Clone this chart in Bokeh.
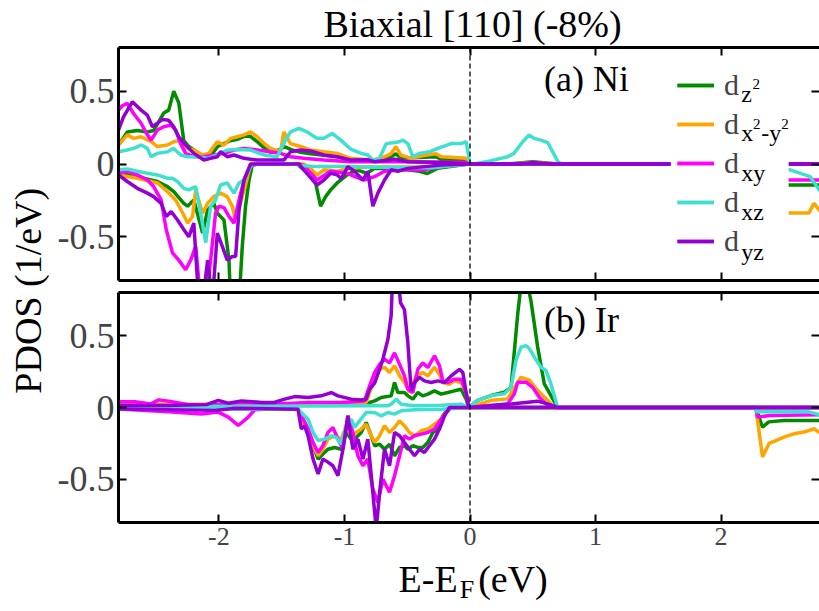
import math
from bokeh.plotting import figure
from bokeh.layouts import row, column
from bokeh.models import Range1d, LinearAxis, FixedTicker, Span, Label, Legend, LegendItem, BoxAnnotation
from bokeh.embed import file_html
from bokeh.resources import INLINE

FONT = "Liberation Serif"

# ---------------- data ----------------
X_TICKS = [-2, -1, 0, 1, 2]
X_TICK_LABELS = ["-2", "-1", "0", "1", "2"]
Y_TICKS = [-0.5, 0, 0.5]
Y_TICK_LABELS = ["-0.5", "0", "0.5"]

ORBITALS = ["z2", "x2-y2", "xy", "xz", "yz"]
COLORS = ["#008B00", "#FFA500", "#FF00FF", "#40E0D0", "#9400D3"]

# (a) Ni, spin up
NI_Z2_UP = [(-2.8, 0.13), (-2.73, 0.22), (-2.65, 0.23), (-2.57, 0.22), (-2.52, 0.23), (-2.44, 0.35), (-2.40, 0.37),
            (-2.36, 0.50), (-2.32, 0.42), (-2.28, 0.16), (-2.24, 0.12), (-2.17, 0.08), (-2.12, 0.05), (-2.07, 0.05),
            (-2.01, 0.12), (-1.96, 0.14), (-1.91, 0.16), (-1.85, 0.17), (-1.80, 0.19), (-1.75, 0.19), (-1.69, 0.15),
            (-1.64, 0.11), (-1.59, 0.08), (-1.51, 0.10), (-1.48, 0.12), (-1.43, 0.10), (-1.35, 0.08), (-1.27, 0.07),
            (-1.16, 0.06), (-1.06, 0.05), (-0.95, 0.03), (-0.76, 0.023), (-0.63, 0.05), (-0.59, 0.07), (-0.55, 0.04),
            (-0.36, 0.046), (-0.27, 0.05), (-0.23, 0.032), (-0.03, 0.027), (0.0, 0.0), (0.3, 0.0), (0.5, 0.015),
            (0.7, 0.0), (2.8, 0.0)]
NI_X2Y2_UP = [(-2.8, 0.13), (-2.73, 0.20), (-2.68, 0.176), (-2.62, 0.187), (-2.54, 0.153), (-2.49, 0.12), (-2.41, 0.13),
              (-2.36, 0.153), (-2.305, 0.164), (-2.25, 0.107), (-2.2, 0.096), (-2.13, 0.062), (-2.08, 0.073),
              (-2.013, 0.153), (-1.96, 0.13), (-1.907, 0.176), (-1.854, 0.187), (-1.80, 0.2), (-1.748, 0.22),
              (-1.695, 0.187), (-1.64, 0.14), (-1.59, 0.107), (-1.51, 0.084), (-1.483, 0.22), (-1.43, 0.14),
              (-1.35, 0.12), (-1.27, 0.096), (-1.164, 0.084), (-1.058, 0.073), (-0.952, 0.039), (-0.82, 0.03),
              (-0.76, 0.03), (-0.68, 0.05), (-0.63, 0.07), (-0.59, 0.12), (-0.55, 0.06), (-0.47, 0.04), (-0.36, 0.06),
              (-0.27, 0.07), (-0.23, 0.05), (-0.12, 0.045), (-0.03, 0.04), (0.0, 0.0), (0.35, 0.0), (0.5, 0.01),
              (0.7, 0.0), (2.8, 0.0)]
NI_XY_UP = [(-2.8, 0.37), (-2.77, 0.40), (-2.73, 0.416), (-2.68, 0.347), (-2.62, 0.28), (-2.57, 0.2), (-2.54, 0.164),
            (-2.49, 0.233), (-2.44, 0.256), (-2.38, 0.267), (-2.345, 0.233), (-2.305, 0.14), (-2.265, 0.073),
            (-2.2, 0.05), (-2.12, 0.05), (-2.04, 0.062), (-1.96, 0.073), (-1.88, 0.096), (-1.80, 0.107),
            (-1.695, 0.096), (-1.59, 0.084), (-1.51, 0.073), (-1.43, 0.05), (-1.324, 0.039), (-1.164, 0.027),
            (-0.952, 0.016), (-0.5, 0.015), (-0.03, 0.01), (0.0, 0.0), (2.8, 0.0)]
NI_XZ_UP = [(-2.8, 0.084), (-2.73, 0.096), (-2.68, 0.107), (-2.62, 0.13), (-2.57, 0.107), (-2.54, 0.05), (-2.49, 0.073),
            (-2.41, 0.084), (-2.36, 0.107), (-2.305, 0.062), (-2.25, 0.05), (-2.17, 0.05), (-2.09, 0.039),
            (-2.013, 0.062), (-1.934, 0.096), (-1.854, 0.10), (-1.748, 0.096), (-1.64, 0.062), (-1.536, 0.05),
            (-1.47, 0.164), (-1.43, 0.22), (-1.363, 0.244), (-1.297, 0.22), (-1.218, 0.176), (-1.164, 0.176),
            (-1.098, 0.21), (-1.03, 0.164), (-0.946, 0.10), (-0.867, 0.073), (-0.814, 0.062), (-0.774, 0.027),
            (-0.721, 0.039), (-0.668, 0.14), (-0.615, 0.146), (-0.562, 0.153), (-0.535, 0.164), (-0.495, 0.14),
            (-0.456, 0.05), (-0.403, 0.073), (-0.323, 0.084), (-0.257, 0.107), (-0.15, 0.14), (-0.071, 0.14),
            (-0.031, 0.153), (0.0, 0.0), (0.035, 0.0), (0.167, 0.023), (0.30, 0.05), (0.35, 0.073), (0.42, 0.153),
            (0.47, 0.20), (0.51, 0.176), (0.565, 0.164), (0.62, 0.146), (0.70, 0.016), (0.725, 0.0), (2.8, 0.0)]
NI_YZ_UP = [(-2.8, 0.233), (-2.76, 0.324), (-2.69, 0.427), (-2.62, 0.37), (-2.57, 0.336), (-2.53, 0.256), (-2.49, 0.28),
            (-2.45, 0.306), (-2.40, 0.30), (-2.36, 0.256), (-2.32, 0.187), (-2.265, 0.13), (-2.2, 0.073),
            (-2.12, 0.027), (-2.066, 0.039), (-2.013, 0.05), (-1.987, 0.084), (-1.934, 0.05), (-1.88, 0.062),
            (-1.80, 0.039), (-1.695, 0.027), (-1.483, 0.027), (-1.43, 0.084), (-1.35, 0.096), (-1.27, 0.09),
            (-1.164, 0.062), (-1.058, 0.05), (-0.952, 0.027), (-0.82, 0.03), (-0.761, 0.016), (-0.6, 0.032),
            (-0.495, 0.016), (-0.23, 0.01), (0.0, 0.0), (0.4, 0.0), (0.5, 0.01), (0.65, 0.0), (2.8, 0.0)]

# (a) Ni, spin down
NI_Z2_DN = [(-2.8, -0.064), (-2.65, -0.087), (-2.49, -0.12), (-2.41, -0.155), (-2.36, -0.19), (-2.28, -0.27),
            (-2.25, -0.29), (-2.2, -0.247), (-2.13, -0.475), (-2.09, -0.315), (-2.04, -0.27), (-2.013, -0.338),
            (-1.96, -0.384), (-1.92, -0.66), (-1.907, -0.95), (-1.84, -0.95), (-1.814, -0.566), (-1.788, -0.29),
            (-1.76, -0.11), (-1.735, -0.01), (-1.70, 0.0), (-1.377, 0.0), (-1.324, -0.04), (-1.244, -0.075),
            (-1.19, -0.29), (-1.15, -0.224), (-1.11, -0.178), (-1.058, -0.13), (-0.979, -0.075), (-0.9, -0.04),
            (-0.82, -0.064), (-0.761, -0.03), (-0.5, -0.04), (-0.403, -0.05), (-0.34, -0.065), (-0.26, -0.03),
            (-0.01, 0.0), (2.27, 0.0), (2.28, -0.145), (2.8, -0.145)]
NI_X2Y2_DN = [(-2.8, -0.075), (-2.65, -0.098), (-2.49, -0.13), (-2.41, -0.19), (-2.345, -0.247), (-2.28, -0.35),
              (-2.25, -0.406), (-2.21, -0.36), (-2.185, -0.178), (-2.13, -0.338), (-2.09, -0.27), (-2.04, -0.224),
              (-1.987, -0.2), (-1.934, -0.224), (-1.894, -0.29), (-1.867, -0.384), (-1.83, -0.27), (-1.788, -0.144),
              (-1.748, 0.0), (-1.324, 0.0), (-1.27, -0.03), (-1.218, -0.075), (-1.164, -0.04), (-1.058, -0.05),
              (-0.952, -0.03), (-0.82, -0.02), (-0.3, -0.02), (0.0, 0.0), (2.27, 0.0), (2.28, -0.336),
              (2.7, -0.336), (2.74, -0.27), (2.8, -0.336)]
NI_XY_DN = [(-2.8, -0.064), (-2.73, -0.05), (-2.65, -0.075), (-2.57, -0.11), (-2.52, -0.155), (-2.46, -0.247),
            (-2.42, -0.45), (-2.37, -0.61), (-2.32, -0.66), (-2.265, -0.726), (-2.225, -0.66), (-2.185, -0.566),
            (-2.145, -0.95), (-2.105, -0.95), (-2.066, -0.66), (-2.027, -0.338), (-2.0, -0.29), (-1.96, -0.30),
            (-1.92, -0.36), (-1.88, -0.406), (-1.84, -0.247), (-1.80, -0.11), (-1.748, -0.01), (-1.70, 0.0),
            (-1.363, 0.0), (-1.324, -0.012), (-1.218, -0.11), (-1.11, -0.05), (-0.979, -0.064), (-0.846, -0.11),
            (-0.761, -0.087), (-0.681, -0.05), (-0.55, -0.04), (-0.363, -0.04), (-0.23, -0.018), (-0.01, 0.0),
            (2.27, 0.0), (2.28, -0.11), (2.8, -0.11)]
NI_XZ_DN = [(-2.8, -0.04), (-2.73, -0.034), (-2.65, -0.05), (-2.57, -0.064), (-2.49, -0.075), (-2.41, -0.098),
            (-2.37, -0.098), (-2.33, -0.12), (-2.28, -0.167), (-2.24, -0.178), (-2.185, -0.155), (-2.145, -0.338),
            (-2.105, -0.54), (-2.066, -0.29), (-2.027, -0.247), (-1.987, -0.144), (-1.934, -0.13), (-1.88, -0.2),
            (-1.84, -0.13), (-1.80, -0.11), (-1.76, -0.04), (-1.735, 0.0), (-1.4, 0.0), (-1.35, -0.01),
            (-1.218, -0.018), (-0.952, -0.018), (-0.82, -0.02), (-0.3, -0.025), (-0.01, 0.0), (2.27, 0.0),
            (2.28, -0.04), (2.55, -0.04), (2.71, -0.087), (2.8, -0.2)]
NI_YZ_DN = [(-2.8, -0.075), (-2.73, -0.12), (-2.65, -0.167), (-2.57, -0.2), (-2.52, -0.224), (-2.46, -0.27),
            (-2.42, -0.36), (-2.38, -0.326), (-2.33, -0.384), (-2.28, -0.45), (-2.24, -0.5), (-2.2, -0.406),
            (-2.16, -0.95), (-2.13, -0.95), (-2.09, -0.66), (-2.053, -0.95), (-2.013, -0.475), (-1.973, -0.566),
            (-1.934, -0.66), (-1.894, -0.635), (-1.867, -0.635), (-1.84, -0.315), (-1.80, -0.11), (-1.748, 0.0),
            (-1.363, 0.0), (-1.324, -0.04), (-1.218, -0.144), (-1.164, -0.11), (-1.11, -0.064), (-1.058, -0.075),
            (-1.026, -0.1), (-0.973, -0.018), (-0.92, -0.05), (-0.854, -0.11), (-0.814, -0.05), (-0.774, -0.29),
            (-0.734, -0.2), (-0.681, -0.11), (-0.628, -0.04), (-0.575, -0.05), (-0.495, -0.03), (-0.363, -0.018),
            (-0.23, -0.007), (-0.01, 0.0), (2.8, 0.0)]

# (b) Ir, spin up
IR_Z2_UP = [(-2.8, 0.012), (-0.827, 0.023), (-0.80, 0.035), (-0.76, 0.046), (-0.707, 0.07), (-0.628, 0.081),
            (-0.601, 0.174), (-0.575, 0.104), (-0.522, 0.104), (-0.495, 0.081), (-0.455, 0.058), (-0.416, 0.104),
            (-0.376, 0.081), (-0.336, 0.093), (-0.283, 0.116), (-0.23, 0.093), (-0.177, 0.104), (-0.124, 0.116),
            (-0.071, 0.127), (-0.031, 0.058), (-0.01, 0.0), (0.061, 0.05), (0.168, 0.083), (0.274, 0.106),
            (0.327, 0.14), (0.38, 0.65), (0.406, 0.85), (0.46, 0.85), (0.486, 0.74), (0.539, 0.42), (0.592, 0.164),
            (0.645, 0.083), (0.698, 0.0), (2.8, 0.0)]
IR_X2Y2_UP = [(-2.8, 0.023), (-1.82, 0.023), (-1.29, 0.023), (-0.827, 0.035), (-0.80, 0.104), (-0.76, 0.197),
              (-0.72, 0.266), (-0.681, 0.28), (-0.641, 0.243), (-0.601, 0.29), (-0.561, 0.22), (-0.522, 0.174),
              (-0.482, 0.104), (-0.429, 0.22), (-0.376, 0.243), (-0.336, 0.22), (-0.283, 0.28), (-0.243, 0.23),
              (-0.217, 0.174), (-0.164, 0.162), (-0.124, 0.185), (-0.071, 0.174), (-0.031, 0.104), (-0.01, 0.0),
              (0.168, 0.05), (0.30, 0.06), (0.353, 0.14), (0.406, 0.21), (0.473, 0.19), (0.539, 0.118),
              (0.618, 0.05), (0.672, 0.0), (2.8, 0.0)]
IR_XY_UP = [(-2.8, 0.04), (-2.67, 0.04), (-2.54, 0.025), (-2.48, 0.053), (-2.40, 0.044), (-2.24, 0.02), (-2.0, 0.02),
            (-1.82, 0.035), (-1.56, 0.023), (-1.29, 0.035), (-1.026, 0.035), (-0.84, 0.046), (-0.80, 0.15),
            (-0.76, 0.243), (-0.72, 0.30), (-0.681, 0.336), (-0.641, 0.31), (-0.601, 0.38), (-0.561, 0.30),
            (-0.522, 0.22), (-0.495, 0.127), (-0.455, 0.104), (-0.416, 0.266), (-0.376, 0.31), (-0.336, 0.278),
            (-0.283, 0.36), (-0.243, 0.29), (-0.217, 0.185), (-0.177, 0.174), (-0.124, 0.197), (-0.071, 0.197),
            (-0.031, 0.104), (-0.01, 0.0), (0.30, 0.025), (0.353, 0.095), (0.38, 0.176), (0.446, 0.176),
            (0.499, 0.14), (0.552, 0.072), (0.618, 0.014), (0.672, 0.0), (2.8, 0.0)]
IR_XZ_UP = [(-2.8, 0.005), (-0.76, 0.012), (-0.654, 0.012), (-0.628, 0.023), (-0.588, 0.058), (-0.548, 0.023),
            (-0.442, 0.012), (-0.23, 0.016), (-0.071, 0.023), (-0.01, 0.0), (0.061, 0.05), (0.168, 0.083),
            (0.274, 0.095), (0.327, 0.14), (0.366, 0.326), (0.406, 0.42), (0.446, 0.43), (0.473, 0.41),
            (0.513, 0.35), (0.566, 0.28), (0.605, 0.257), (0.645, 0.164), (0.698, 0.0), (2.8, 0.0)]
IR_YZ_UP = [(-2.8, 0.014), (-2.4, 0.014), (-2.1, 0.02), (-2.005, 0.05), (-1.926, 0.03), (-1.82, 0.046), (-1.66, 0.035),
            (-1.56, 0.035), (-1.477, 0.058), (-1.397, 0.076), (-1.29, 0.07), (-1.185, 0.081), (-1.105, 0.104),
            (-1.052, 0.081), (-0.946, 0.058), (-0.867, 0.053), (-0.827, 0.058), (-0.80, 0.127), (-0.76, 0.17),
            (-0.72, 0.266), (-0.694, 0.336), (-0.654, 0.475), (-0.628, 0.64), (-0.615, 0.95), (-0.575, 0.95),
            (-0.554, 0.73), (-0.522, 0.68), (-0.495, 0.45), (-0.469, 0.116), (-0.442, 0.174), (-0.402, 0.21),
            (-0.363, 0.185), (-0.31, 0.174), (-0.256, 0.185), (-0.203, 0.174), (-0.15, 0.22), (-0.084, 0.266),
            (-0.057, 0.243), (-0.031, 0.104), (-0.01, 0.0), (0.327, 0.025), (0.539, 0.044), (0.618, 0.025),
            (0.698, 0.0), (2.8, 0.0)]

# (b) Ir, spin down
IR_Z2_DN = [(-2.8, -0.012), (-1.37, -0.012), (-1.33, -0.081), (-1.29, -0.15), (-1.25, -0.266), (-1.21, -0.36),
            (-1.172, -0.324), (-1.132, -0.29), (-1.079, -0.278), (-1.026, -0.29), (-0.986, -0.174), (-0.946, -0.22),
            (-0.906, -0.208), (-0.867, -0.174), (-0.827, -0.104), (-0.787, -0.197), (-0.76, -0.266), (-0.72, -0.255),
            (-0.681, -0.29), (-0.641, -0.255), (-0.601, -0.336), (-0.561, -0.278), (-0.522, -0.266), (-0.495, -0.29),
            (-0.455, -0.266), (-0.416, -0.278), (-0.376, -0.278), (-0.336, -0.243), (-0.296, -0.174),
            (-0.256, -0.15), (-0.217, -0.058), (-0.177, -0.012), (-0.15, 0.0), (2.277, 0.0), (2.33, -0.137),
            (2.38, -0.1), (2.5, -0.09), (2.8, -0.09)]
IR_X2Y2_DN = [(-2.8, -0.012), (-1.37, -0.012), (-1.33, -0.104), (-1.29, -0.174), (-1.25, -0.266), (-1.21, -0.336),
              (-1.172, -0.29), (-1.132, -0.22), (-1.079, -0.197), (-1.026, -0.22), (-0.986, -0.127), (-0.946, -0.197),
              (-0.906, -0.174), (-0.867, -0.15), (-0.827, -0.116), (-0.787, -0.197), (-0.76, -0.243), (-0.72, -0.197),
              (-0.681, -0.127), (-0.641, -0.174), (-0.601, -0.139), (-0.561, -0.093), (-0.522, -0.127),
              (-0.482, -0.174), (-0.442, -0.197), (-0.389, -0.162), (-0.336, -0.15), (-0.283, -0.116),
              (-0.23, -0.081), (-0.19, -0.035), (-0.15, 0.0), (2.277, 0.0), (2.33, -0.345), (2.382, -0.25),
              (2.436, -0.23), (2.50, -0.206), (2.58, -0.183), (2.66, -0.171), (2.74, -0.148), (2.8, -0.183)]
IR_XY_DN = [(-2.8, -0.01), (-2.4, -0.03), (-2.14, -0.045), (-2.005, -0.032), (-1.926, -0.067), (-1.846, -0.125),
            (-1.767, -0.067), (-1.714, -0.015), (-1.6, -0.01), (-1.37, -0.012), (-1.33, -0.081), (-1.29, -0.15),
            (-1.25, -0.243), (-1.21, -0.3125), (-1.172, -0.266), (-1.132, -0.174), (-1.092, -0.139), (-1.052, -0.22),
            (-1.012, -0.29), (-0.973, -0.058), (-0.933, -0.174), (-0.893, -0.336), (-0.853, -0.405),
            (-0.814, -0.359), (-0.774, -0.567), (-0.734, -0.66), (-0.694, -0.498), (-0.641, -0.59), (-0.601, -0.475),
            (-0.561, -0.336), (-0.522, -0.197), (-0.482, -0.22), (-0.442, -0.197), (-0.389, -0.185),
            (-0.336, -0.174), (-0.283, -0.15), (-0.23, -0.081), (-0.19, -0.035), (-0.15, 0.0), (2.277, 0.0),
            (2.29, -0.067), (2.39, -0.056), (2.8, -0.05)]
IR_XZ_DN = [(-2.8, -0.012), (-1.37, -0.012), (-1.344, -0.035), (-1.29, -0.081), (-1.25, -0.174), (-1.21, -0.23),
            (-1.158, -0.22), (-1.105, -0.197), (-1.066, -0.208), (-1.026, -0.255), (-0.986, -0.127), (-0.946, -0.081),
            (-0.92, -0.139), (-0.88, -0.093), (-0.827, -0.035), (-0.76, -0.035), (-0.707, -0.058), (-0.654, -0.035),
            (-0.601, -0.046), (-0.548, -0.023), (-0.442, -0.016), (-0.23, -0.012), (-0.01, 0.0), (2.277, 0.0),
            (2.28, -0.03), (2.7, -0.03), (2.8, -0.055)]
IR_YZ_DN = [(-2.8, -0.01), (-2.03, -0.02), (-1.87, -0.005), (-1.37, -0.012), (-1.344, -0.15), (-1.318, -0.127),
            (-1.29, -0.197), (-1.25, -0.359), (-1.21, -0.463), (-1.172, -0.359), (-1.132, -0.38), (-1.092, -0.405),
            (-1.052, -0.475), (-1.012, -0.29), (-0.973, -0.058), (-0.933, -0.29), (-0.893, -0.22), (-0.853, -0.359),
            (-0.814, -0.22), (-0.774, -0.59), (-0.747, -0.85), (-0.72, -0.59), (-0.681, -0.29), (-0.641, -0.405),
            (-0.601, -0.174), (-0.561, -0.197), (-0.522, -0.243), (-0.482, -0.29), (-0.442, -0.336),
            (-0.402, -0.29), (-0.363, -0.3125), (-0.323, -0.266), (-0.283, -0.22), (-0.243, -0.15),
            (-0.203, -0.058), (-0.164, 0.0), (2.8, 0.0)]

NI_SERIES = [(NI_Z2_UP, NI_Z2_DN), (NI_X2Y2_UP, NI_X2Y2_DN), (NI_XY_UP, NI_XY_DN), (NI_XZ_UP, NI_XZ_DN), (NI_YZ_UP, NI_YZ_DN)]
IR_SERIES = [(IR_Z2_UP, IR_Z2_DN), (IR_X2Y2_UP, IR_X2Y2_DN), (IR_XY_UP, IR_XY_DN), (IR_XZ_UP, IR_XZ_DN), (IR_YZ_UP, IR_YZ_DN)]

# legend label pieces written after each "d": (text, x shift in eV, superscript?)
LEG_SUBS = [[("z", 0.0, 0), ("2", 0.09, 1)],
            [("x", 0.0, 0), ("2", 0.095, 1), ("-y", 0.16, 0), ("2", 0.32, 1)],
            [("xy", 0.0, 0)],
            [("xz", 0.0, 0)],
            [("yz", 0.0, 0)]]
LEG_SUB_Y = [0.481, 0.210, -0.061, -0.3325, -0.604]
LEG_SUP_Y = [0.546, 0.275, 0.0, 0.0, 0.0]

# ---------------- figure helpers ----------------
W_LABEL = 54
W_PANEL = 819 - W_LABEL
LEFT_BORDER = 117 - W_LABEL
X0, X1 = -2.8, 2.784
LW = 3.5


def hide_labels(ax):
    ax.major_label_text_font_size = "1px"
    ax.major_label_text_color = None
    ax.major_label_standoff = 0


def make_panel(height, top, bottom, show_x_labels):
    p = figure(width=W_PANEL, height=height, x_range=Range1d(X0, X1), y_range=Range1d(-0.8, 0.8),
               output_backend="svg", toolbar_location=None, x_axis_location=None, y_axis_location=None,
               min_border_left=LEFT_BORDER, min_border_right=0, min_border_top=top, min_border_bottom=bottom)
    p.grid.visible = False
    p.outline_line_color = None

    def style(ax, line=True):
        ax.axis_line_width = 3
        ax.axis_line_color = "black" if line else None
        ax.major_tick_in = 8
        ax.major_tick_out = 0
        ax.major_tick_line_width = 2
        ax.minor_tick_line_color = None
        ax.major_label_text_font = FONT

    left = LinearAxis(ticker=FixedTicker(ticks=Y_TICKS),
                      major_label_overrides={t: s for t, s in zip(Y_TICKS, Y_TICK_LABELS)})
    style(left)
    left.major_label_text_font_size = "36px"
    left.major_label_standoff = 4
    p.add_layout(left, "left")

    right = LinearAxis(ticker=FixedTicker(ticks=Y_TICKS))
    style(right, line=False)
    hide_labels(right)
    p.add_layout(right, "right")

    above = LinearAxis(ticker=FixedTicker(ticks=X_TICKS))
    style(above)
    hide_labels(above)
    p.add_layout(above, "above")

    below = LinearAxis(ticker=FixedTicker(ticks=X_TICKS),
                       major_label_overrides={t: s for t, s in zip(X_TICKS, X_TICK_LABELS)})
    style(below)
    if show_x_labels:
        below.major_label_text_font_size = "26px"
        below.major_label_standoff = 5
    else:
        hide_labels(below)
    p.add_layout(below, "below")

    p.add_layout(Span(location=0, dimension="height", line_color="black", line_width=1.3, line_dash="5 3"))
    return p


def text_fig(width, height, left_border, xr):
    f = figure(width=width, height=height, x_range=xr, y_range=Range1d(0, 1), output_backend="svg",
               toolbar_location=None, x_axis_location=None, y_axis_location=None,
               min_border_left=left_border, min_border_right=0, min_border_top=0, min_border_bottom=0)
    f.grid.visible = False
    f.outline_line_color = None
    return f


def draw(p, series):
    rends = []
    for (up, dn), color in zip(series, COLORS):
        r1 = p.line([e for e, _ in up], [v for _, v in up], line_color=color, line_width=LW)
        r2 = p.line([e for e, _ in dn], [v for _, v in dn], line_color=color, line_width=LW)
        rends.append([r1, r2])
    return rends


def txt(p, x, y, text, size, align="left", angle=0.0):
    p.add_layout(Label(x=x, y=y, text=text, text_font=FONT, text_font_size=size, text_align=align,
                       text_baseline="middle", angle=angle, text_color="black", level="overlay"))


# ---------------- title strip ----------------
pt = text_fig(W_PANEL, 46, LEFT_BORDER, Range1d(X0, X1))
txt(pt, 0.02, 0.50, "Biaxial [110] (-8%)", "38px", align="center")

# ---------------- top panel (Ni) ----------------
p1 = make_panel(240, 1, 6, False)
p1.add_layout(BoxAnnotation(left=1.60, right=2.538, top=0.70, bottom=-0.70, fill_color="white", fill_alpha=1.0,
                            line_color=None, level="guide"))
ni_r = draw(p1, NI_SERIES)
txt(p1, 0.589, 0.584, "(a) Ni", "36px")

legend = Legend(items=[LegendItem(label="d", renderers=r) for r in ni_r], location=(559, 22),
                glyph_width=37, glyph_height=20, label_standoff=10, label_width=67, label_height=20,
                label_text_font=FONT, label_text_font_size="30px", padding=8, spacing=5, margin=0,
                border_line_color=None, background_fill_alpha=0.0)
p1.add_layout(legend)

for subs, ys, yp in zip(LEG_SUBS, LEG_SUB_Y, LEG_SUP_Y):
    for text, dx, sup in subs:
        if sup:
            txt(p1, 2.16 + dx, yp, text, "15px")
        else:
            txt(p1, 2.16 + dx, ys, text, "24px")

# ---------------- bottom panel (Ir) ----------------
p2 = make_panel(270, 6, 34, True)
draw(p2, IR_SERIES)
txt(p2, 0.589, 0.612, "(b) Ir", "36px")

# ---------------- x label strip ----------------
p3 = text_fig(W_PANEL, 55, LEFT_BORDER, Range1d(X0, X1))
txt(p3, -0.334, 0.582, "E-E", "38px", align="center")
txt(p3, -0.024, 0.40, "F", "26px", align="center")
txt(p3, 0.342, 0.582, "(eV)", "38px", align="center")

# ---------------- y label column ----------------
p0 = text_fig(W_LABEL, 611, 0, Range1d(0, 1))
txt(p0, 0.50, 0.525, "PDOS (1/eV)", "38px", align="center", angle=math.pi / 2)

layout = row(p0, column(pt, p1, p2, p3, spacing=0), spacing=0)
open("out.html", "w").write(file_html(layout, INLINE))
